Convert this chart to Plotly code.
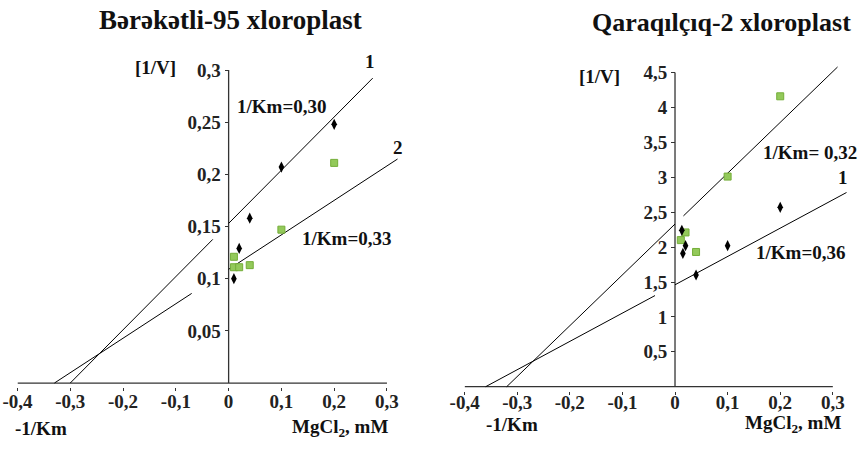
import plotly.graph_objects as go

# ---- data -----------------------------------------------------------------
mg_left_1 = [0.01, 0.02, 0.04, 0.1, 0.2]
inv_v_left_1 = [0.100, 0.129, 0.158, 0.207, 0.248]
mg_left_2 = [0.01, 0.01, 0.02, 0.04, 0.1, 0.2]
inv_v_left_2 = [0.121, 0.111, 0.111, 0.113, 0.147, 0.211]

mg_right_1 = [0.013, 0.015, 0.02, 0.04, 0.1, 0.2]
inv_v_right_1 = [2.24, 1.91, 2.02, 1.60, 2.02, 2.57]
mg_right_2 = [0.011, 0.02, 0.04, 0.1, 0.2]
inv_v_right_2 = [2.10, 2.21, 1.93, 3.01, 4.16]

# fitted lines: 1/Km (x-intercept is -1/Km) and the 1/V intercept at x = 0
inv_km_left = {"1": 0.30, "2": 0.33}
intercept_left = {"1": 0.153, "2": 0.109}
inv_km_right = {"1": 0.36, "2": 0.32}
intercept_right = {"1": 1.46, "2": 2.33}

# each fitted line is drawn as two pieces (extrapolated part and measured part)
segments_left = {"1": [(-0.30, -0.03), (0.0, 0.273)], "2": [(-0.33, -0.07), (0.0, 0.32)]}
segments_right = {"1": [(-0.36, -0.038), (0.0, 0.326)], "2": [(-0.32, 0.0), (0.016, 0.309)]}

x_ticks = [-0.4, -0.3, -0.2, -0.1, 0, 0.1, 0.2, 0.3]
x_tick_text = ["-0,4", "-0,3", "-0,2", "-0,1", "0", "0,1", "0,2", "0,3"]
y_ticks_left = [0.05, 0.1, 0.15, 0.2, 0.25, 0.3]
y_tick_text_left = ["0,05", "0,1", "0,15", "0,2", "0,25", "0,3"]
y_ticks_right = [0.5, 1, 1.5, 2, 2.5, 3, 3.5, 4, 4.5]
y_tick_text_right = ["0,5", "1", "1,5", "2", "2,5", "3", "3,5", "4", "4,5"]

titles = ["Bərəkətli-95 xloroplast", "Qaraqılçıq-2 xloroplast"]

# ---- layout geometry ------------------------------------------------------
W, H = 859, 449
SERIF = "Liberation Serif"
AXIS_COLOR = "#333333"
GREEN = "#93c95a"
GREEN_EDGE = "#74ad38"

x_range = [-0.4, 0.33]
y_range_left = [-0.004, 0.31]
y_range_right = [-0.06, 4.65]
dom_x_left = [17.5 / W, 402.8 / W]
dom_y_left = [(H - 387.2) / H, (H - 59.6) / H]
dom_x_right = [464.6 / W, 848.6 / W]
dom_y_right = [(H - 390.9) / H, (H - 62.1) / H]


def zero_position(dom):
    return dom[0] + (0 - x_range[0]) / (x_range[1] - x_range[0]) * (dom[1] - dom[0])


fig = go.Figure()


def add_panel(xa, ya, mg1, v1, mg2, v2, inv_km, b, segs, y_top):
    # axis lines crossing at the origin
    fig.add_trace(go.Scatter(x=[x_ticks[0], x_ticks[-1]], y=[0, 0], mode="lines",
                             line=dict(color=AXIS_COLOR, width=1.3), xaxis=xa, yaxis=ya,
                             hoverinfo="skip", showlegend=False))
    fig.add_trace(go.Scatter(x=[0, 0], y=[0, y_top], mode="lines",
                             line=dict(color=AXIS_COLOR, width=1.3), xaxis=xa, yaxis=ya,
                             hoverinfo="skip", showlegend=False))
    # fitted Lineweaver-Burk lines: y = b * (1 + x / (1/Km))
    for key in ("1", "2"):
        slope = b[key] / inv_km[key]
        for x0, x1 in segs[key]:
            fig.add_trace(go.Scatter(x=[x0, x1], y=[b[key] + slope * x0, b[key] + slope * x1],
                                     mode="lines", line=dict(color="black", width=1),
                                     xaxis=xa, yaxis=ya, hoverinfo="skip", showlegend=False))
    # measurements
    fig.add_trace(go.Scatter(x=mg2, y=v2, mode="markers",
                             marker=dict(symbol="square", size=7, color=GREEN,
                                         line=dict(color=GREEN_EDGE, width=1)),
                             xaxis=xa, yaxis=ya, showlegend=False))
    fig.add_trace(go.Scatter(x=mg1, y=v1, mode="markers",
                             marker=dict(symbol="diamond-tall", size=8, color="black"),
                             xaxis=xa, yaxis=ya, showlegend=False))


add_panel("x", "y", mg_left_1, inv_v_left_1, mg_left_2, inv_v_left_2,
          inv_km_left, intercept_left, segments_left, y_ticks_left[-1])
add_panel("x2", "y2", mg_right_1, inv_v_right_1, mg_right_2, inv_v_right_2,
          inv_km_right, intercept_right, segments_right, y_ticks_right[-1])


def bold(labels):
    return ["<b>%s</b>" % s for s in labels]


tick_font = dict(family=SERIF, size=19, color="#222222")
xaxis_common = dict(range=x_range, tickvals=x_ticks, ticktext=bold(x_tick_text), ticks="outside",
                    ticklen=3, tickcolor=AXIS_COLOR, showline=False, showgrid=False,
                    zeroline=False, tickfont=tick_font, automargin=False)
yaxis_common = dict(ticks="outside", ticklen=4, tickcolor=AXIS_COLOR, showline=False,
                    showgrid=False, zeroline=False, tickfont=tick_font, anchor="free",
                    side="left", automargin=False)

fig.update_layout(
    width=W, height=H, margin=dict(l=0, r=0, t=0, b=0, autoexpand=False),
    paper_bgcolor="white", plot_bgcolor="white", showlegend=False,
    font=dict(family=SERIF),
    xaxis=dict(domain=dom_x_left, anchor="y", ticklabelstandoff=-6, **xaxis_common),
    yaxis=dict(domain=dom_y_left, range=y_range_left, tickvals=y_ticks_left,
               ticktext=bold(y_tick_text_left), position=zero_position(dom_x_left), **yaxis_common),
    xaxis2=dict(domain=dom_x_right, anchor="y2", ticklabelstandoff=-9, **xaxis_common),
    yaxis2=dict(domain=dom_y_right, range=y_range_right, tickvals=y_ticks_right,
                ticktext=bold(y_tick_text_right), position=zero_position(dom_x_right), **yaxis_common),
)


def txt(text, x, y, xref, yref, size=19):
    fig.add_annotation(text=text, x=x, y=y, xref=xref, yref=yref, showarrow=False,
                       xanchor="center", yanchor="middle",
                       font=dict(family=SERIF, size=size, color="#111111"))


# titles
txt("<b>%s</b>" % titles[0], 230 / W, 1 - 20 / H, "paper", "paper", size=27)
txt("<b>%s</b>" % titles[1], 721 / W, 1 - 23 / H, "paper", "paper", size=26)

# left panel labels
txt("<b>[1/V]</b>", -0.139, 0.302, "x", "y")
txt("<b>1/Km=0,30</b>", 0.101, 0.265, "x", "y")
txt("<b>1/Km=0,33</b>", 0.224, 0.139, "x", "y")
txt("<b>1</b>", 0.268, 0.308, "x", "y")
txt("<b>2</b>", 0.320, 0.226, "x", "y")
txt("<b>-1/Km</b>", 41 / W, 1 - 428 / H, "paper", "paper")
txt("<b>MgCl<sub>2</sub>, mM</b>", 340 / W, 1 - 428 / H, "paper", "paper")

# right panel labels
txt("<b>[1/V]</b>", -0.143, 4.44, "x2", "y2")
txt("<b>1/Km= 0,32</b>", 0.257, 3.35, "x2", "y2")
txt("<b>1/Km=0,36</b>", 0.238, 1.92, "x2", "y2")
txt("<b>2</b>", 0.291, 4.78, "x2", "y2")
txt("<b>1</b>", 0.319, 3.0, "x2", "y2")
txt("<b>-1/Km</b>", 512 / W, 1 - 424 / H, "paper", "paper")
txt("<b>MgCl<sub>2</sub>, mM</b>", 793 / W, 1 - 424 / H, "paper", "paper")

fig.write_html("out.html")
